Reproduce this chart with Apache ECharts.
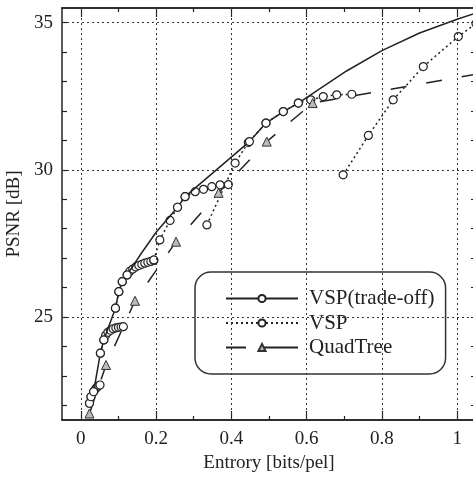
<!DOCTYPE html>
<html>
<head>
<meta charset="utf-8">
<title>PSNR vs Entropy</title>
<script src="https://cdn.jsdelivr.net/npm/echarts@6/dist/echarts.min.js"></script>
<style>
  html, body { margin: 0; padding: 0; background: #fff; }
  #chart { width: 473px; height: 477px; }
</style>
</head>
<body>
<div id="chart"></div>
<script>
// 刻度
var xMajor = [0, 0.2, 0.4, 0.6, 0.8, 1];
var xMinor = [0.1, 0.3, 0.5, 0.7, 0.9];
var yMajor = [25, 30, 35];
var yTicks = [22, 23, 24, 25, 26, 27, 28, 29, 30, 31, 32, 33, 34, 35];

// VSP(trade-off) 实线, mark=0 表示只画线不画圈
var tradeX = [0.023, 0.027, 0.034, 0.052, 0.061, 0.092, 0.101, 0.110, 0.123, 0.160, 0.200, 0.257, 0.277, 0.448, 0.492, 0.538, 0.578, 0.706, 0.800, 0.900, 1.000, 1.050];
var tradeY = [22.07, 22.29, 22.46, 23.77, 24.22, 25.30, 25.86, 26.20, 26.43, 27.15, 27.88, 28.73, 29.09, 30.96, 31.59, 31.98, 32.27, 33.36, 34.05, 34.65, 35.12, 35.33];
var tradeMark = [1, 1, 1, 1, 1, 1, 1, 1, 1, 0, 0, 1, 1, 1, 1, 1, 1, 0, 0, 0, 0, 0];

// VSP 点线 (几段)
var vsp1X = [0.023, 0.027, 0.034, 0.039, 0.043, 0.047, 0.051];
var vsp1Y = [22.07, 22.29, 22.46, 22.55, 22.61, 22.66, 22.69];
var vsp2X = [0.052, 0.061, 0.066, 0.072, 0.079, 0.086, 0.093, 0.100, 0.107, 0.113];
var vsp2Y = [23.77, 24.22, 24.38, 24.48, 24.55, 24.60, 24.63, 24.65, 24.66, 24.67];
var vsp3X = [0.092, 0.101, 0.110, 0.123, 0.130, 0.138, 0.146, 0.154, 0.162, 0.170, 0.178, 0.186, 0.194];
var vsp3Y = [25.30, 25.86, 26.20, 26.43, 26.55, 26.63, 26.70, 26.75, 26.79, 26.83, 26.86, 26.89, 26.92];
var vsp4X = [0.194, 0.210, 0.237, 0.257, 0.277, 0.304, 0.326, 0.348, 0.370, 0.392];
var vsp4Y = [26.94, 27.62, 28.28, 28.73, 29.09, 29.26, 29.34, 29.43, 29.49, 29.50];
var vsp5X = [0.335, 0.410, 0.445, 0.492, 0.538, 0.578, 0.611, 0.644, 0.680, 0.720];
var vsp5Y = [28.13, 30.23, 30.93, 31.59, 31.98, 32.27, 32.38, 32.49, 32.55, 32.57];
var vsp6X = [0.697, 0.764, 0.830, 0.910, 1.003, 1.050];
var vsp6Y = [29.83, 31.17, 32.38, 33.51, 34.53, 34.97];

// QuadTree 虚线
var quadX = [0.023, 0.067, 0.144, 0.253, 0.366, 0.494, 0.616, 1.050];
var quadY = [21.72, 23.37, 25.55, 27.56, 29.22, 30.96, 32.27, 33.25];
var quadMark = [1, 1, 1, 1, 1, 1, 1, 0];

var FONT = 'Liberation Serif';
var INK = '#222';

var showChart = {
    chart: null,
    /**
     * 生成数据点
     */
    points: function (xs, ys, marks) {
        return xs.map(function (x, i) {
            var item = { value: [x, ys[i]] };
            if (marks && !marks[i]) item.symbol = 'none';
            return item;
        });
    },
    xAxis: function (pos, ticks, len, labels) {
        return {
            type: 'value', position: pos, min: -0.05, max: 1.05,
            axisLine: { show: true, onZero: false, lineStyle: { color: INK, width: 1.5 } },
            axisTick: { show: true, inside: true, length: len, customValues: ticks, lineStyle: { color: INK, width: 1.2 } },
            axisLabel: labels ? { show: true, customValues: xMajor, margin: 10, fontFamily: FONT, fontSize: 19, color: INK } : { show: false },
            splitLine: { show: false },
            name: labels ? 'Entrory [bits/pel]' : '',
            nameLocation: 'middle', nameGap: 33,
            nameTextStyle: { fontFamily: FONT, fontSize: 19, color: INK }
        };
    },
    yAxis: function (pos, labels) {
        return {
            type: 'value', position: pos, min: 21.5, max: 35.5,
            axisLine: { show: true, onZero: false, lineStyle: { color: INK, width: 1.5 } },
            axisTick: { show: true, inside: true, length: 5, customValues: yTicks, lineStyle: { color: INK, width: 1.2 } },
            axisLabel: labels ? { show: true, customValues: yMajor, margin: 9, fontFamily: FONT, fontSize: 19, color: INK } : { show: false },
            splitLine: { show: false },
            name: labels ? 'PSNR [dB]' : '',
            nameLocation: 'middle', nameGap: 34,
            nameTextStyle: { fontFamily: FONT, fontSize: 19, color: INK }
        };
    },
    vsp: function (xs, ys) {
        return {
            name: 'VSP', type: 'line', z: 3,
            data: this.points(xs, ys),
            symbol: 'circle', symbolSize: 8, showAllSymbol: true,
            itemStyle: { color: '#fff', borderColor: INK, borderWidth: 1.2 },
            lineStyle: { color: INK, width: 1.5, type: [2, 3] }
        };
    },
    getOption: function () {
        var gridLines = [];
        yMajor.forEach(function (v) { gridLines.push({ yAxis: v }); });
        xMajor.forEach(function (v) { gridLines.push({ xAxis: v }); });
        return {
            backgroundColor: '#fff',
            animation: false,
            grid: { left: 62, right: -3, top: 8, bottom: 57, containLabel: false, outerBoundsMode: 'none' },
            xAxis: [
                this.xAxis('bottom', xMajor, 9, true),
                this.xAxis('bottom', xMinor, 4, false),
                this.xAxis('top', xMajor, 9, false),
                this.xAxis('top', xMinor, 4, false)
            ],
            yAxis: [this.yAxis('left', true), this.yAxis('right', false)],
            legend: {
                orient: 'vertical', left: 195, top: 272,
                padding: [16, 11, 16, 30], itemGap: 3.5,
                itemWidth: 72, itemHeight: 9,
                backgroundColor: '#fff', borderColor: '#333', borderWidth: 1.5, borderRadius: 16,
                textStyle: { fontFamily: FONT, fontSize: 21, color: INK, padding: [0, 0, 0, 6] },
                data: [
                    { name: 'VSP(trade-off)' },
                    { name: 'VSP' },
                    { name: 'QuadTree', lineStyle: { type: [20, 18, 40, 0] } }
                ]
            },
            series: [
                {
                    name: 'grid', type: 'line', z: 1, silent: true,
                    data: [[0, 25]], symbol: 'none', lineStyle: { opacity: 0 },
                    markLine: {
                        silent: true, symbol: 'none', label: { show: false },
                        lineStyle: { color: '#333', width: 1, type: [2, 3] },
                        data: gridLines
                    }
                },
                {
                    name: 'VSP(trade-off)', type: 'line', z: 4,
                    data: this.points(tradeX, tradeY, tradeMark),
                    symbol: 'circle', symbolSize: 8, showAllSymbol: true,
                    itemStyle: { color: '#fff', borderColor: INK, borderWidth: 1.2 },
                    lineStyle: { color: INK, width: 1.5 }
                },
                this.vsp(vsp1X, vsp1Y),
                this.vsp(vsp2X, vsp2Y),
                this.vsp(vsp3X, vsp3Y),
                this.vsp(vsp4X, vsp4Y),
                this.vsp(vsp5X, vsp5Y),
                this.vsp(vsp6X, vsp6Y),
                {
                    name: 'QuadTree', type: 'line', z: 3,
                    data: this.points(quadX, quadY, quadMark),
                    symbol: 'triangle', symbolSize: 9, showAllSymbol: true,
                    itemStyle: { color: '#bbb', borderColor: '#333', borderWidth: 1 },
                    lineStyle: { color: INK, width: 1.5, type: [16, 20] }
                }
            ]
        };
    },
    render: function (id) {
        this.chart = echarts.init(document.getElementById(id));
        this.chart.setOption(this.getOption());
    }
};

showChart.render('chart');
</script>
</body>
</html>
